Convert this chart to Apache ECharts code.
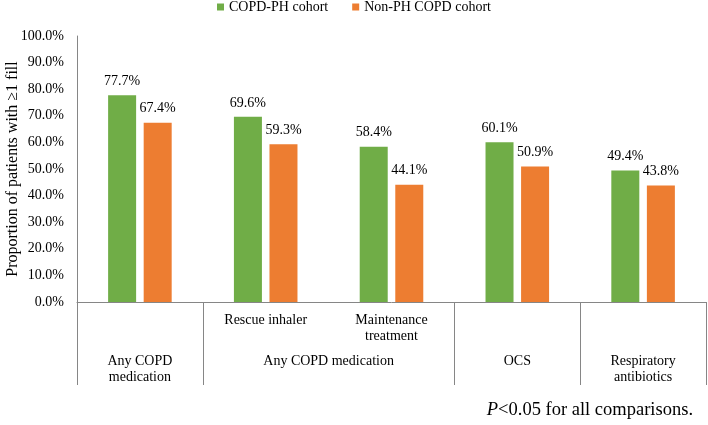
<!DOCTYPE html>
<html>
<head>
<meta charset="utf-8">
<script src="https://cdn.jsdelivr.net/npm/echarts@6/dist/echarts.min.js"></script>
<style>html,body{margin:0;padding:0;background:#fff}#c{width:708px;height:425px}</style>
</head>
<body>
<div id="c"></div>
<script>
var seriesNames = ['COPD-PH cohort', 'Non-PH COPD cohort'];
var subCategories = ['', 'Rescue inhaler', 'Maintenance\ntreatment', '', ''];
var groupLabels = ['Any COPD\nmedication', 'Any COPD medication', 'OCS', 'Respiratory\nantibiotics'];
var groupSpans = [1, 2, 1, 1];
var copdPh = [77.7, 69.6, 58.4, 60.1, 49.4];
var nonPh = [67.4, 59.3, 44.1, 50.9, 43.8];
var yTicks = [0, 10, 20, 30, 40, 50, 60, 70, 80, 90, 100];

var FONT = '"Liberation Serif", "Times New Roman", serif';
var AXIS_GRAY = '#868686';

var boundaries = [0];
var groupCenters = [];
groupSpans.forEach(function (s, i) {
  var start = boundaries[boundaries.length - 1];
  groupCenters.push(start + s / 2);
  boundaries.push(start + s);
});

var chart = echarts.init(document.getElementById('c'), null, {renderer: 'canvas'});
chart.setOption({
  animation: false,
  textStyle: {fontFamily: FONT, color: '#000'},
  legend: {
    data: seriesNames,
    top: -5,
    left: 'center',
    itemWidth: 7,
    itemHeight: 7,
    itemGap: 24,
    icon: 'rect',
    textStyle: {fontFamily: FONT, fontSize: 14, color: '#000'}
  },
  title: {
    text: '{i|P}<0.05 for all comparisons.',
    right: 10,
    bottom: 0,
    textStyle: {
      fontFamily: FONT, fontSize: 18.5, fontWeight: 'normal', color: '#000',
      rich: {i: {fontFamily: FONT, fontSize: 18.5, fontStyle: 'italic', color: '#000'}}
    }
  },
  grid: {left: 77, right: 2, top: 36, bottom: 123, containLabel: false, outerBoundsMode: 'none'},
  xAxis: [
    {
      type: 'category',
      data: subCategories,
      boundaryGap: true,
      axisLine: {show: true, lineStyle: {color: AXIS_GRAY, width: 1}},
      axisTick: {show: false},
      axisLabel: {margin: 10, fontSize: 14, lineHeight: 16, color: '#000', fontFamily: FONT, interval: 0}
    },
    {
      type: 'value',
      min: 0,
      max: boundaries[boundaries.length - 1],
      position: 'bottom',
      axisLine: {show: false},
      splitLine: {show: false},
      axisTick: {show: true, customValues: boundaries, length: 83, inside: false, lineStyle: {color: AXIS_GRAY, width: 1}},
      axisLabel: {
        customValues: groupCenters,
        margin: 51,
        fontSize: 14,
        lineHeight: 16,
        color: '#000',
        fontFamily: FONT,
        formatter: function (v) {
          var idx = groupCenters.indexOf(v);
          return idx >= 0 ? groupLabels[idx] : '';
        }
      }
    }
  ],
  yAxis: {
    type: 'value',
    min: yTicks[0],
    max: yTicks[yTicks.length - 1],
    interval: 10,
    name: 'Proportion of patients with \u22651 fill',
    nameLocation: 'middle',
    nameGap: 56,
    nameMoveOverlap: false,
    nameTextStyle: {fontFamily: FONT, fontSize: 16, color: '#000'},
    axisLine: {show: true, lineStyle: {color: AXIS_GRAY, width: 1}},
    axisTick: {show: false},
    splitLine: {show: false},
    axisLabel: {margin: 13, fontSize: 14, color: '#000', fontFamily: FONT,
      formatter: function (v) { return v.toFixed(1) + '%'; }}
  },
  series: [
    {
      name: seriesNames[0], type: 'bar', data: copdPh, barWidth: 28, barGap: '27%',
      itemStyle: {color: '#70AD47'},
      label: {show: true, position: 'top', distance: 7, fontSize: 14, fontFamily: FONT, color: '#000',
        formatter: function (p) { return p.value.toFixed(1) + '%'; }}
    },
    {
      name: seriesNames[1], type: 'bar', data: nonPh, barWidth: 28, barGap: '27%',
      itemStyle: {color: '#ED7D31'},
      label: {show: true, position: 'top', distance: 7, fontSize: 14, fontFamily: FONT, color: '#000',
        formatter: function (p) { return p.value.toFixed(1) + '%'; }}
    }
  ]
});
</script>
</body>
</html>
